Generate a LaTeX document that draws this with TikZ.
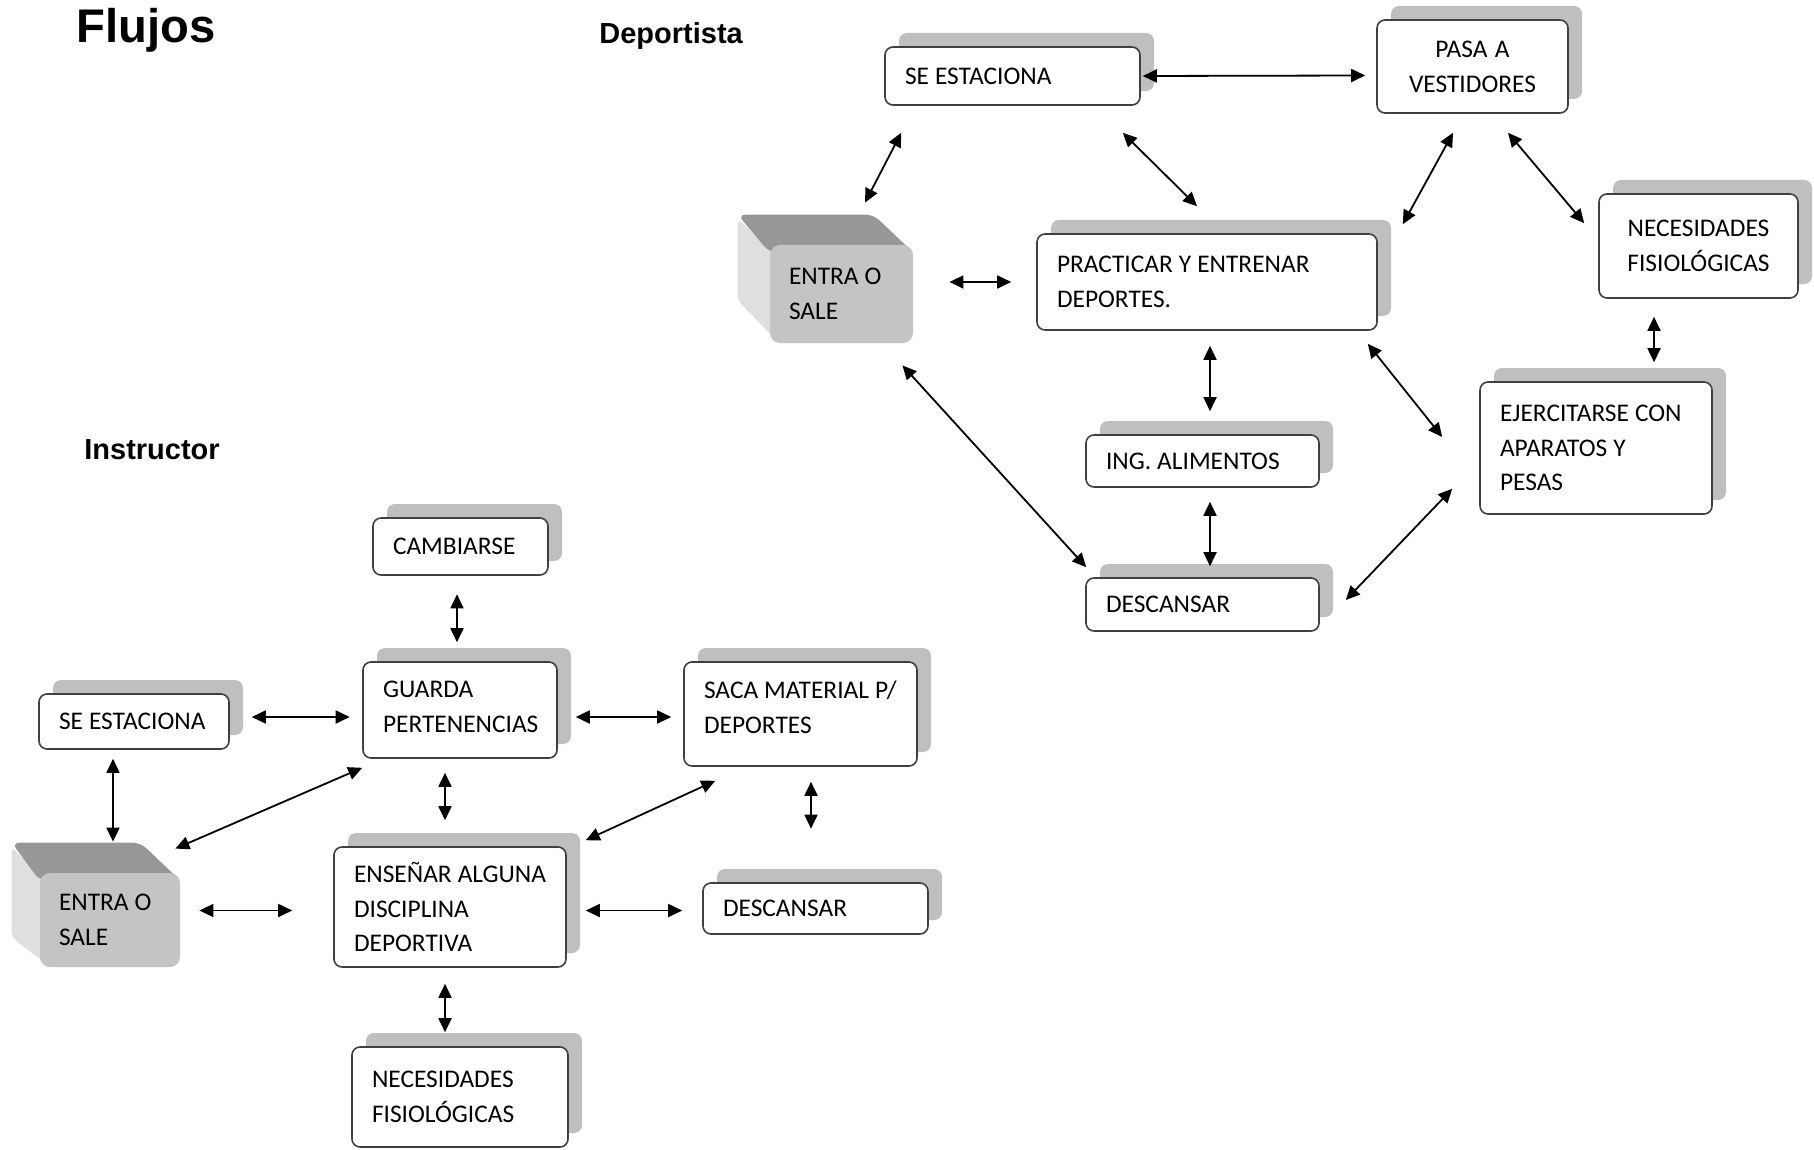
\documentclass[tikz,border=0pt]{standalone}
\usepackage{fontspec}
\setmainfont{Carlito}
\newfontfamily\titlefont{Liberation Sans}
\usetikzlibrary{arrows.meta,shadows}
\pgfdeclarelayer{background}
\pgfsetlayers{background,main}
\definecolor{shadowgray}{HTML}{BFBFBF}
\definecolor{boxline}{HTML}{404040}
\definecolor{cubefront}{HTML}{C4C4C4}
\definecolor{cubetop}{HTML}{979797}
\definecolor{cubeside}{HTML}{DFDFDF}
\newcommand{\tightspace}{\spaceskip=3pt plus 1pt minus 0.5pt\relax}
\begin{document}
\begin{tikzpicture}[x=0.5pt,y=-0.5pt,
  txt/.style={font=\fontsize{12.7}{17.4}\selectfont, text=black, execute at begin node=\tightspace},
  box/.style={txt, draw=boxline, line width=0.8pt, fill=white, rounded corners=4pt,
    inner xsep=10pt, inner ysep=0pt, align=left, anchor=center,
    general shadow={fill=shadowgray, shadow xshift=7pt, shadow yshift=7pt}},
  cube/.style={txt, fill=cubefront, rounded corners=5pt, inner xsep=9.5pt, inner ysep=0pt,
    align=left, anchor=center},
  title/.style={anchor=base west, inner sep=0pt, text=black, font=\titlefont\bfseries\fontsize{14.5}{17}\selectfont},
  arr/.style={line width=0.9pt, {Triangle[length=7pt,width=6.5pt]}-{Triangle[length=7pt,width=6.5pt]}}
]
\useasboundingbox (0,0) rectangle (1814,1150);

% titles
\node[title, font=\titlefont\bfseries\fontsize{23.6}{28}\selectfont] (tflujos) at (76,43) {Flujos};
\node[title] (tdep) at (599,44) {Deportista};
\node[title] (tins) at (84,459) {Instructor};

% ---------------- Deportista ----------------
\node[box, text width=107.5pt, minimum height=29pt] (se1) at (1012.5,76) {\mbox{SE ESTACIONA}};
\node[box, align=center, text width=75.5pt, minimum height=46.5pt] (pasa) at (1472.5,66.5) {PASA A\\VESTIDORES};
\node[cube, text width=52.5pt, minimum height=49pt] (e1) at (841.5,294) {\mbox{ENTRA O}\\SALE};
\node[box, text width=150pt, minimum height=48pt] (prac) at (1207,282) {\mbox{PRACTICAR Y ENTRENAR}\\DEPORTES.};
\node[box, align=center, text width=79.5pt, minimum height=52pt] (nec1) at (1698.5,246) {NECESIDADES\\FISIOLÓGICAS};
\node[box, text width=96pt, minimum height=66pt] (ejer) at (1596,448) {\mbox{EJERCITARSE CON}\\\mbox{APARATOS Y}\\PESAS};
\node[box, text width=96.5pt, minimum height=26pt] (ing) at (1202.5,461) {\mbox{ING. ALIMENTOS}};
\node[box, text width=96.5pt, minimum height=26.5pt] (desc1) at (1202.5,604.5) {DESCANSAR};

% ---------------- Instructor ----------------
\node[box, text width=67.5pt, minimum height=28.5pt] (camb) at (460.5,546.5) {CAMBIARSE};
\node[box, text width=77pt, minimum height=48pt] (guarda) at (460,710) {GUARDA\\PERTENENCIAS\rule[-3pt]{0pt}{0pt}};
\node[box, text width=96.5pt, minimum height=52pt] (saca) at (800.5,714) {\mbox{SACA MATERIAL P/}\\DEPORTES\rule[-7pt]{0pt}{0pt}};
\node[box, text width=75pt, minimum height=27.5pt] (se2) at (134,721.5) {\mbox{SE ESTACIONA}};
\node[cube, text width=51pt, minimum height=47pt] (e2) at (110,920) {\mbox{ENTRA O}\\SALE};
\node[box, text width=96pt, minimum height=60pt] (ens) at (450,907) {\mbox{ENSEÑAR ALGUNA}\\DISCIPLINA\\DEPORTIVA};
\node[box, text width=92.5pt, minimum height=25.5pt] (desc2) at (815.5,908.5) {DESCANSAR};
\node[box, text width=88pt, minimum height=50pt] (nec2) at (460,1097) {NECESIDADES\\FISIOLÓGICAS};

% white page and 3D faces of the "ENTRA O SALE" blocks
\begin{pgfonlayer}{background}
\fill[white] (0,0) rectangle (1814,1150);
\fill[cubeside, rounded corners=3pt] ([shift={(-32,-26)}]e1.north west) -- ([shift={(6,10)}]e1.north west)
  -- ([shift={(6,-4)}]e1.south west) -- ([shift={(-32,-43)}]e1.south west) -- cycle;
\fill[cubetop, rounded corners=4pt] ([shift={(-32,-30)}]e1.north west) -- ([shift={(-40,-30)}]e1.north east)
  -- ([shift={(0,8)}]e1.north east) -- ([shift={(0,8)}]e1.north west) -- cycle;
\fill[cubeside, rounded corners=3pt] ([shift={(-28,-26)}]e2.north west) -- ([shift={(6,10)}]e2.north west)
  -- ([shift={(6,-4)}]e2.south west) -- ([shift={(-28,-30)}]e2.south west) -- cycle;
\fill[cubetop, rounded corners=4pt] ([shift={(-28,-30)}]e2.north west) -- ([shift={(-40,-30)}]e2.north east)
  -- ([shift={(0,8)}]e2.north east) -- ([shift={(0,8)}]e2.north west) -- cycle;
\end{pgfonlayer}

% ---------------- connectors: Deportista ----------------
\draw[arr] ([shift={(2,0)}]se1.east) -- ([shift={(-11,9)}]pasa.west);
\draw[arr] ([shift={(17,27)}]se1.south west) -- ([shift={(23.5,-42)}]e1.north);
\draw[arr] ([shift={(-18,27)}]se1.south east) -- ([shift={(-10,-27)}]prac.north);
\draw[arr] ([shift={(-19.5,19)}]pasa.south) -- ([shift={(25,-9)}]prac.north east);
\draw[arr] ([shift={(35.5,19)}]pasa.south) -- ([shift={(-14,30)}]nec1.north west);
\draw[arr] ([shift={(36,-12)}]e1.east) -- ([shift={(-25,0)}]prac.west);
\draw[arr] ([shift={(-44.5,18)}]nec1.south) -- ([shift={(58,-19)}]ejer.north);
\draw[arr] ([shift={(3,15)}]prac.south) -- ([shift={(7.5,-23)}]ing.north);
\draw[arr] ([shift={(-10,13)}]prac.south east) -- ([shift={(-37,-11)}]ejer.west);
\draw[arr] ([shift={(-11,22)}]e1.south east) -- ([shift={(1,-10)}]desc1.north west);
\draw[arr] ([shift={(7.5,14)}]ing.south) -- ([shift={(7.5,-11)}]desc1.north);
\draw[arr] ([shift={(26,-4.5)}]desc1.east) -- ([shift={(-27,-26)}]ejer.south west);

% ---------------- connectors: Instructor ----------------
\draw[arr] ([shift={(-3.5,18.5)}]camb.south) -- ([shift={(-3,-19)}]guarda.north);
\draw[arr] ([shift={(22,-4.5)}]se2.east) -- ([shift={(-12.5,7)}]guarda.west);
\draw[arr] ([shift={(18,7)}]guarda.east) -- ([shift={(-12,3)}]saca.west);
\draw[arr] ([shift={(-21,9)}]se2.south) -- ([shift={(3,-31)}]e2.north);
\draw[arr] ([shift={(0,9)}]guarda.south west) -- ([shift={(-5,-24)}]e2.north east);
\draw[arr] ([shift={(-15,14)}]guarda.south) -- ([shift={(-5,-26)}]ens.north);
\draw[arr] ([shift={(32,14)}]saca.south west) -- ([shift={(19,-6)}]ens.north east);
\draw[arr] ([shift={(10.5,15)}]saca.south) -- ([shift={(-4.5,-53.5)}]desc2.north);
\draw[arr] ([shift={(19,-9.5)}]e2.east) -- ([shift={(-41,3.5)}]ens.west);
\draw[arr] ([shift={(19,3.5)}]ens.east) -- ([shift={(-20,2)}]desc2.west);
\draw[arr] ([shift={(-5,16)}]ens.south) -- ([shift={(-15,-14)}]nec2.north);
\end{tikzpicture}
\end{document}
